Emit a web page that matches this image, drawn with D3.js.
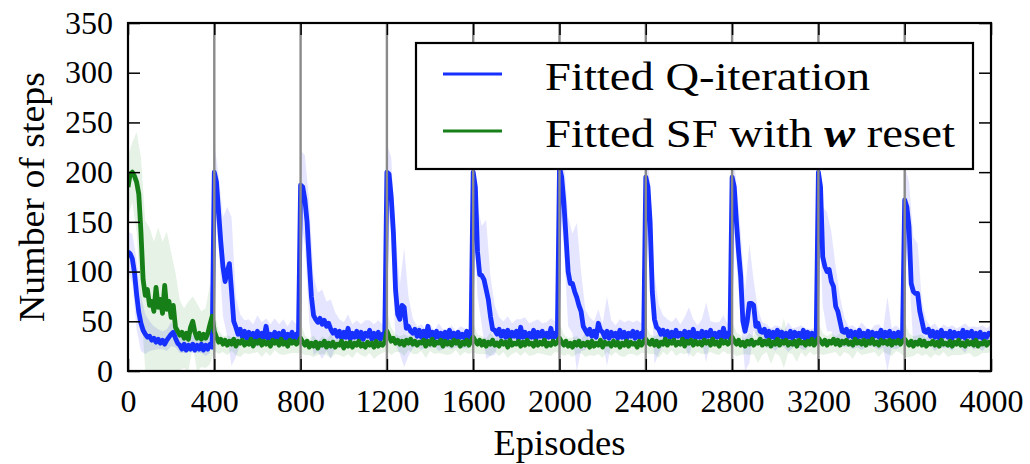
<html lang="en">
<head>
<meta charset="utf-8">
<title>Number of steps per episode</title>
<script src="https://cdn.jsdelivr.net/npm/d3@7"></script>
<style>
body { margin: 0; background: #fff; }
svg text { font-family: "Liberation Serif", "DejaVu Serif", serif; fill: #000; }
</style>
</head>
<body>
<script>
// episodes are sampled every 10 for the means, every 20 for the spread
var episodes = d3.range(0, 4001, 10);
var spreadEpisodes = d3.range(0, 4001, 20);
var resetEpisodes = [400, 800, 1200, 1600, 2000, 2400, 2800, 3200, 3600];
var xTicks = [0, 400, 800, 1200, 1600, 2000, 2400, 2800, 3200, 3600, 4000];
var yTicks = [0, 50, 100, 150, 200, 250, 300, 350];
var seriesNames = ["Fitted Q-iteration", "Fitted SF with w reset"];

// Fitted Q-iteration, mean steps
var blueMean = [
  120,118,113,99,77,59,48,41,37,34,35,31,33,29,32,28,31,27,31,34,37,39,33,28,26,22,27,21,26,22,27,21,26,22,27,21,26,22,27,24,
  200,190,160,130,105,90,100,108,80,50,44,37,42,34,40,33,39,32,38,33,40,31,38,34,45,32,37,33,39,31,38,34,40,32,37,33,39,31,37,33,
  187,185,172,150,110,75,56,52,49,53,47,51,45,48,42,38,41,35,40,33,39,34,43,32,38,34,40,33,39,32,38,35,41,32,38,33,39,32,37,34,
  200,198,175,140,82,57,52,66,64,43,45,40,38,42,35,41,34,40,33,45,35,39,33,40,34,38,32,39,33,41,34,38,32,39,34,37,33,40,32,37,
  200,185,120,97,96,92,82,72,55,42,41,37,42,35,40,34,41,33,39,35,40,32,44,34,39,33,38,34,41,32,39,35,40,33,38,34,43,33,38,34,
  205,195,170,135,100,88,88,80,74,66,60,45,41,37,42,35,40,34,48,41,39,34,40,33,39,35,38,33,41,34,39,32,38,35,40,33,39,34,38,33,
  195,185,150,80,52,44,42,37,41,35,40,34,39,33,41,35,38,34,40,32,39,35,42,33,38,34,40,32,39,35,41,33,38,34,39,33,43,34,38,33,
  195,185,150,120,95,50,40,50,68,68,66,45,48,40,39,42,35,40,34,39,33,41,35,39,32,38,34,40,33,39,35,38,34,41,32,39,34,38,33,37,
  200,185,115,105,100,102,90,85,65,60,50,40,39,42,35,40,34,39,33,41,35,38,34,40,33,39,35,38,34,41,33,39,35,40,33,38,34,39,33,37,
  172,165,145,88,80,78,78,60,50,40,39,42,35,40,34,39,33,41,35,38,34,40,33,39,35,38,34,41,33,39,35,40,33,38,34,39,33,37,34,38,
  36
];

// Fitted SF with w reset, mean steps
var greenMean = [
  185,198,200,196,190,178,140,92,76,82,66,70,60,84,64,72,58,86,62,70,54,66,44,40,36,39,33,38,32,44,50,39,33,38,32,37,33,38,47,55,
  40,34,29,32,27,31,26,30,27,32,25,30,28,31,26,29,27,32,25,30,28,31,26,30,27,29,25,31,28,30,26,32,27,29,25,31,28,30,27,29,
  33,29,26,30,24,28,25,29,23,28,26,30,24,28,25,29,24,27,26,30,23,28,25,29,24,28,26,30,25,27,24,29,26,28,24,30,25,28,26,29,
  40,35,30,33,28,31,27,30,26,31,28,32,27,30,26,29,28,31,25,30,27,32,26,29,28,31,25,30,27,29,26,31,28,30,25,29,27,31,26,30,
  34,30,27,31,26,30,25,29,27,31,26,28,25,30,27,29,24,31,26,28,27,30,25,29,26,31,27,28,25,30,26,29,27,31,25,28,26,30,27,29,
  33,29,26,30,25,28,24,29,26,30,25,28,26,29,24,30,25,28,26,31,24,29,27,28,25,30,26,29,24,28,26,30,25,29,27,28,24,30,26,29,
  32,29,27,31,26,30,25,29,27,32,26,30,28,31,26,29,27,32,25,30,28,31,26,30,27,29,26,31,28,30,26,32,27,29,25,31,28,30,27,29,
  34,30,27,31,26,29,25,30,27,31,26,29,28,32,26,30,27,31,25,29,27,32,26,30,28,31,26,29,27,30,25,31,28,29,26,30,27,32,26,29,
  33,30,27,31,26,30,28,32,27,31,26,30,28,31,27,29,26,32,28,30,27,31,26,30,28,32,27,29,26,31,28,30,27,31,26,30,28,31,27,30,
  32,29,26,30,25,29,27,31,26,30,25,28,27,30,26,29,25,31,27,28,26,30,25,29,27,31,26,28,25,30,27,29,26,31,25,28,27,30,26,29,
  28
];

// spread (std) around the means, every 20 episodes
var blueSpread = [
  20,25,35,28,20,15,12,10,9,11,12,9,8,9,7,9,8,9,11,9,
  28,38,50,65,75,30,15,11,13,9,16,11,8,10,14,9,12,8,13,10,
  35,45,60,40,30,35,25,30,18,12,10,14,9,11,8,13,10,9,12,10,
  28,40,55,35,60,30,15,10,13,9,12,8,14,10,9,12,8,11,10,9,
  30,45,50,70,40,25,12,10,14,9,12,8,15,10,9,13,8,11,10,12,
  30,45,55,50,75,40,20,12,10,14,9,35,12,8,11,10,13,9,12,10,
  30,40,45,25,15,12,10,13,9,14,25,10,8,12,30,9,11,10,13,9,
  32,40,45,40,60,25,14,10,12,9,13,10,8,15,10,9,12,11,8,10,
  30,50,60,50,40,25,15,10,12,9,14,10,8,11,13,9,40,10,12,9,
  35,45,55,50,20,12,10,14,9,12,10,13,8,11,15,9,12,10,13,9,
  10
];
var greenSpread = [
  30,30,50,75,75,78,70,80,72,78,65,55,35,30,38,25,35,28,30,40,
  20,12,8,10,7,9,14,8,10,7,9,12,8,10,7,9,11,8,10,9,
  15,10,8,11,7,9,8,12,7,10,9,8,11,7,9,10,8,12,9,8,
  20,14,9,8,11,7,10,9,8,12,7,9,10,8,11,9,7,10,8,9,
  15,10,9,8,12,7,10,8,11,9,8,10,7,12,9,8,10,9,11,8,
  15,11,8,10,9,7,12,8,10,9,11,8,10,7,9,12,8,10,9,8,
  14,10,9,12,8,10,7,11,9,8,10,12,8,9,11,7,10,9,8,10,
  16,12,10,8,11,9,20,10,8,18,9,11,25,8,10,16,9,12,8,10,
  15,11,9,10,8,12,9,10,14,8,11,9,10,8,12,9,10,11,8,9,
  18,12,10,9,11,8,14,9,10,8,12,9,11,10,8,9,12,10,9,8,
  9
];

var blueColor = "#1530ff";
var greenColor = "#177f17";
var serif = "'Liberation Serif', 'DejaVu Serif', serif";

var w = 1030;
var h = 464;
var plotLeft = 128, plotRight = 991, plotTop = 23, plotBottom = 371;

var svg = d3.select("body").append("svg")
  .attr("width", w)
  .attr("height", h)
  .attr("font-family", serif);

var x = d3.scaleLinear().domain([0, 4000]).range([plotLeft, plotRight]);
var y = d3.scaleLinear().domain([0, 350]).range([plotBottom, plotTop]);

svg.append("clipPath").attr("id", "plotclip")
  .append("rect")
  .attr("x", plotLeft).attr("y", plotTop)
  .attr("width", plotRight - plotLeft).attr("height", plotBottom - plotTop);

var plot = svg.append("g").attr("clip-path", "url(#plotclip)");

// shaded spread
function spreadArea(mean, spread) {
  return d3.area()
    .x(function(d, i) { return x(spreadEpisodes[i]); })
    .y0(function(d, i) { return y(Math.max(0, mean[i * 2] - spread[i])); })
    .y1(function(d, i) { return y(mean[i * 2] + spread[i]); });
}

plot.append("path")
  .datum(blueSpread)
  .attr("d", spreadArea(blueMean, blueSpread))
  .attr("fill", "#0000ff")
  .attr("fill-opacity", 0.1);

plot.append("path")
  .datum(greenSpread)
  .attr("d", spreadArea(greenMean, greenSpread))
  .attr("fill", "#008000")
  .attr("fill-opacity", 0.1);

// mean lines
var meanLine = d3.line()
  .x(function(d, i) { return x(episodes[i]); })
  .y(function(d) { return y(d); });

plot.append("path")
  .datum(blueMean)
  .attr("d", meanLine)
  .attr("fill", "none")
  .attr("stroke", blueColor)
  .attr("stroke-width", 4.8)
  .attr("stroke-linejoin", "round");

plot.append("path")
  .datum(greenMean)
  .attr("d", meanLine)
  .attr("fill", "none")
  .attr("stroke", greenColor)
  .attr("stroke-width", 4.8)
  .attr("stroke-linejoin", "round");

// reset markers
plot.selectAll(".reset")
  .data(resetEpisodes)
  .enter()
  .append("line")
  .attr("class", "reset")
  .attr("x1", function(d) { return x(d); })
  .attr("x2", function(d) { return x(d); })
  .attr("y1", plotTop)
  .attr("y2", plotBottom)
  .attr("stroke", "#8a8a8a")
  .attr("stroke-width", 2.4);

// axes, ticks pointing inwards on all sides
var fmt = d3.format("d");
var xAxis = d3.axisBottom(x).tickValues(xTicks).tickFormat(fmt).tickSize(-12).tickSizeOuter(0).tickPadding(18);
var yAxis = d3.axisLeft(y).tickValues(yTicks).tickFormat(fmt).tickSize(-12).tickSizeOuter(0).tickPadding(15);

var gx = svg.append("g").attr("transform", "translate(0," + plotBottom + ")").call(xAxis);
var gy = svg.append("g").attr("transform", "translate(" + plotLeft + ",0)").call(yAxis);
var gt = svg.append("g").attr("transform", "translate(0," + plotTop + ")")
  .call(d3.axisTop(x).tickValues(xTicks).tickSize(-12).tickSizeOuter(0).tickFormat(""));
var gr = svg.append("g").attr("transform", "translate(" + plotRight + ",0)")
  .call(d3.axisRight(y).tickValues(yTicks).tickSize(-12).tickSizeOuter(0).tickFormat(""));

[gx, gy, gt, gr].forEach(function(g) {
  g.attr("font-family", serif).attr("font-size", 32);
  g.select(".domain").remove();
  g.selectAll(".tick line").attr("stroke", "#000").attr("stroke-width", 1.5);
  g.selectAll("text").attr("fill", "#000");
});

// frame
svg.append("rect")
  .attr("x", plotLeft).attr("y", plotTop)
  .attr("width", plotRight - plotLeft).attr("height", plotBottom - plotTop)
  .attr("fill", "none")
  .attr("stroke", "#000")
  .attr("stroke-width", 2.2);

// axis titles
svg.append("text")
  .attr("x", (plotLeft + plotRight) / 2)
  .attr("y", 455)
  .attr("text-anchor", "middle")
  .attr("font-size", 35)
  .attr("textLength", 132)
  .attr("lengthAdjust", "spacingAndGlyphs")
  .text("Episodes");

svg.append("text")
  .attr("transform", "translate(44," + ((plotTop + plotBottom) / 2) + ") rotate(-90)")
  .attr("text-anchor", "middle")
  .attr("font-size", 35)
  .attr("textLength", 250)
  .attr("lengthAdjust", "spacingAndGlyphs")
  .text("Number of steps");

// legend
var legend = svg.append("g");
legend.append("rect")
  .attr("x", 416).attr("y", 43)
  .attr("width", 557).attr("height", 126)
  .attr("fill", "#fff")
  .attr("stroke", "#000")
  .attr("stroke-width", 2.2);

var legendRows = [
  { color: blueColor, y: 74, base: 90, len: 325 },
  { color: greenColor, y: 131, base: 147, len: 410 }
];

legend.selectAll(".key")
  .data(legendRows)
  .enter()
  .append("line")
  .attr("x1", 443).attr("x2", 502)
  .attr("y1", function(d) { return d.y; })
  .attr("y2", function(d) { return d.y; })
  .attr("stroke", function(d) { return d.color; })
  .attr("stroke-width", 2.8);

legend.append("text")
  .attr("x", 545).attr("y", legendRows[0].base)
  .attr("font-size", 41)
  .attr("textLength", legendRows[0].len)
  .attr("lengthAdjust", "spacingAndGlyphs")
  .text(seriesNames[0]);

var t2 = legend.append("text")
  .attr("x", 545).attr("y", legendRows[1].base)
  .attr("font-size", 41)
  .attr("textLength", legendRows[1].len)
  .attr("lengthAdjust", "spacingAndGlyphs");
t2.append("tspan").text("Fitted SF with ");
t2.append("tspan").attr("font-style", "italic").attr("font-weight", "bold").text("w");
t2.append("tspan").text(" reset");
</script>
</body>
</html>
